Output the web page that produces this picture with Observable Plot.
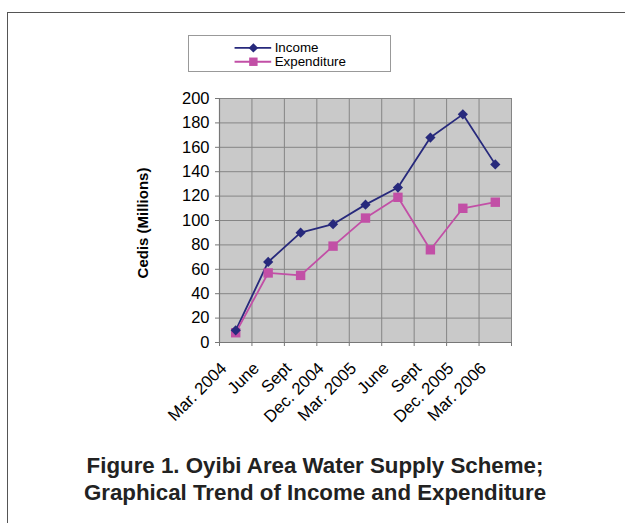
<!DOCTYPE html>
<html>
<head>
<meta charset="utf-8">
<script src="https://cdn.jsdelivr.net/npm/d3@7"></script>
<script src="https://cdn.jsdelivr.net/npm/@observablehq/plot@0.6"></script>
<style>
  html, body { margin: 0; padding: 0; background: #fff; }
  body { width: 625px; height: 523px; position: relative; overflow: hidden; font-family: "Liberation Sans", Arial, sans-serif; }
  #frame { position: absolute; left: 7px; top: 12px; width: 700px; height: 600px; border: 1.5px solid #555; box-sizing: border-box; }
  #chart { position: absolute; left: 0; top: 0; }
  #legend { position: absolute; left: 188px; top: 35px; width: 203px; height: 37px; border: 1px solid #999; background: #fff; box-sizing: border-box; }
  #legend svg { position: absolute; left: 0; top: 0; }
  #caption { position: absolute; left: 0; width: 630px; top: 452px; text-align: center; font-weight: bold; font-size: 22.3px; line-height: 27px; color: #222; }
  #ylabel { position: absolute; left: 142px; top: 223px; transform: translate(-50%, -50%) rotate(-90deg); font-weight: bold; font-size: 15px; white-space: nowrap; color: #000; }
</style>
</head>
<body>
<div id="frame"></div>
<div id="chart"></div>
<div id="legend"></div>
<div id="ylabel">Cedis (Millions)</div>
<div id="caption">Figure 1. Oyibi Area Water Supply Scheme;<br>Graphical Trend of Income and Expenditure</div>
<script>
const categories = ["Mar. 2004", "June", "Sept", "Dec. 2004", "Mar. 2005", "June", "Sept", "Dec. 2005", "Mar. 2006"];
const income = [10, 66, 90, 97, 113, 127, 168, 187, 146];
const expenditure = [8, 57, 55, 79, 102, 119, 76, 110, 115];
const yTicks = [0, 20, 40, 60, 80, 100, 120, 140, 160, 180, 200];
const seriesNames = ["Income", "Expenditure"];

const incomeColor = "#27297c";
const expColor = "#c24fa6";
const font = "'Liberation Sans', Arial, sans-serif";

const idx = categories.map((c, i) => i);
const incData = idx.map(i => ({x: i + 0.5, y: income[i]}));
const expData = idx.map(i => ({x: i + 0.5, y: expenditure[i]}));
const bounds = d3.range(categories.length + 1);
const labelData = idx.map(i => ({x: i + 0.5, label: categories[i]}));

const chart = Plot.plot({
  width: 625,
  height: 445,
  marginLeft: 219,
  marginRight: 114,
  marginTop: 98,
  marginBottom: 103,
  x: {type: "linear", domain: [0, categories.length], axis: null},
  y: {type: "linear", domain: [0, 200], axis: null},
  style: {fontFamily: font, background: "transparent", overflow: "visible"},
  marks: [
    Plot.frame({fill: "#c9c9c9", stroke: null}),
    Plot.ruleY(yTicks.slice(1), {stroke: "#858585", strokeWidth: 1}),
    Plot.ruleX(bounds.slice(1), {stroke: "#858585", strokeWidth: 1}),
    // y tick marks
    Plot.ruleY(yTicks, {x1: 0, x2: 0, insetLeft: -4, stroke: "#777", strokeWidth: 1}),
    // x tick marks
    Plot.ruleX(bounds, {y1: 0, y2: 0, insetBottom: -4, stroke: "#777", strokeWidth: 1}),
    // axis lines
    Plot.ruleX([0], {stroke: "#777", strokeWidth: 1.2}),
    Plot.ruleY([0], {stroke: "#777", strokeWidth: 1.2}),
    Plot.text(yTicks, {x: 0, y: d => d, text: d => String(d), dx: -10, textAnchor: "end", fontSize: 16.5, fill: "#000"}),
    Plot.text(labelData, {x: "x", y: 0, text: "label", rotate: -45, textAnchor: "end", fontSize: 16.8, fill: "#000", dx: -12, dy: 23}),
    // lines
    Plot.line(incData, {x: "x", y: "y", stroke: incomeColor, strokeWidth: 1.8}),
    Plot.line(expData, {x: "x", y: "y", stroke: expColor, strokeWidth: 1.8}),
    Plot.dot(expData, {x: "x", y: "y", symbol: "square", r: 5.3, fill: expColor, stroke: null}),
    Plot.dot(incData, {x: "x", y: "y", symbol: "diamond2", r: 4.6, fill: incomeColor, stroke: null})
  ]
});
document.getElementById("chart").appendChild(chart);

// legend
const legendRows = seriesNames.map((name, i) => ({name, row: i}));
const legendColors = [incomeColor, expColor];
const legend = Plot.plot({
  width: 203,
  height: 37,
  margin: 0,
  x: {type: "linear", domain: [0, 203], axis: null},
  y: {type: "linear", domain: [0, 37], axis: null, reverse: true},
  style: {fontFamily: font, background: "transparent", overflow: "visible"},
  marks: [
    Plot.ruleY(legendRows, {x1: 46, x2: 83, y: d => 11.5 + d.row * 14, stroke: d => legendColors[d.row], strokeWidth: 1.8}),
    Plot.dot(legendRows.slice(0, 1), {x: 64.5, y: d => 11.5 + d.row * 14, symbol: "diamond2", r: 4.3, fill: incomeColor, stroke: null}),
    Plot.dot(legendRows.slice(1), {x: 64.5, y: d => 11.5 + d.row * 14, symbol: "square", r: 4.8, fill: expColor, stroke: null}),
    Plot.text(legendRows, {x: 86, y: d => 11 + d.row * 14, text: "name", textAnchor: "start", fontSize: 13.5, fill: "#000"})
  ]
});
document.getElementById("legend").appendChild(legend);
</script>
</body>
</html>
